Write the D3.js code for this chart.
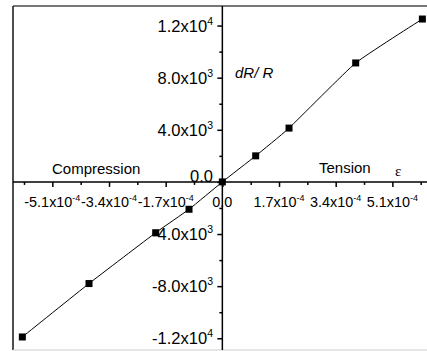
<!DOCTYPE html>
<html>
<head>
<meta charset="utf-8">
<script src="https://cdn.jsdelivr.net/npm/d3@7"></script>
<style>
  html, body { margin: 0; padding: 0; background: #fff; }
  svg { display: block; font-family: Arial, "Liberation Sans", sans-serif; }
</style>
</head>
<body>
<svg id="chart" width="427" height="351"></svg>
<script>
// Strain (ε) against relative resistance change (dR/R)
const strain = [-6e-4, -4e-4, -2e-4, -1e-4, 0, 1e-4, 2e-4, 4e-4, 6e-4];
const dRR    = [-11900, -7800, -3900, -2100, 0, 2000, 4130, 9130, 12500];

// Axis ticks and their labels ("^" marks the exponent)
const xMajor = [-5.1e-4, -3.4e-4, -1.7e-4, 0, 1.7e-4, 3.4e-4, 5.1e-4];
const xMajorLabels = ["-5.1x10^-4", "-3.4x10^-4", "-1.7x10^-4", "0.0", "1.7x10^-4", "3.4x10^-4", "5.1x10^-4"];
const xMinor = [-5.95e-4, -4.25e-4, -2.55e-4, -0.85e-4, 0.85e-4, 2.55e-4, 4.25e-4, 5.95e-4];
const yMajor = [-12000, -8000, -4000, 0, 4000, 8000, 12000];
const yMajorLabels = ["-1.2x10^4", "-8.0x10^3", "-4.0x10^3", "0.0", "4.0x10^3", "8.0x10^3", "1.2x10^4"];
const yMinor = [-10000, -6000, -2000, 2000, 6000, 10000];

const svg = d3.select("#chart");
const plotLeft = 13, plotRight = 431.7, plotTop = 6, plotBottom = 350;

const x = d3.scaleLinear().domain([-6.28e-4, 6.28e-4]).range([plotLeft, plotRight]);
const y = d3.scaleLinear().domain([-12900, 13500]).range([plotBottom, plotTop]);

// Frame
svg.append("line").attr("x1", plotLeft).attr("x2", 427).attr("y1", plotTop).attr("y2", plotTop)
  .attr("stroke", "#777").attr("stroke-width", 2);
svg.append("line").attr("x1", plotLeft).attr("x2", plotLeft).attr("y1", plotTop).attr("y2", plotBottom)
  .attr("stroke", "#222").attr("stroke-width", 1.6);
svg.append("line").attr("x1", plotLeft).attr("x2", 427).attr("y1", plotBottom).attr("y2", plotBottom)
  .attr("stroke", "#ccc").attr("stroke-width", 1);

// Axes crossing at the origin
const gx = svg.append("g").attr("transform", `translate(0,${y(0)})`);
gx.call(d3.axisBottom(x).tickValues(xMajor).tickSize(5).tickSizeOuter(0).tickFormat(""));
gx.append("g").call(d3.axisBottom(x).tickValues(xMinor).tickSize(3).tickSizeOuter(0).tickFormat(""))
  .select(".domain").remove();
gx.select(".domain").attr("d", `M${plotLeft},0H427`);
gx.selectAll("line, path").attr("stroke", "#000").attr("stroke-width", 1.5);

const gy = svg.append("g").attr("transform", `translate(${x(0)},0)`);
gy.call(d3.axisLeft(y).tickValues(yMajor).tickSize(5).tickSizeOuter(0).tickFormat(""));
gy.append("g").call(d3.axisLeft(y).tickValues(yMinor).tickSize(3).tickSizeOuter(0).tickFormat(""))
  .select(".domain").remove();
gy.select(".domain").attr("d", `M0,${plotTop}V${plotBottom}`);
gy.selectAll("line, path").attr("stroke", "#000").attr("stroke-width", 1.5);

// Label text with a raised exponent
function writeLabel(sel, supSize, supRise) {
  sel.each(function(d) {
    const parts = d.label.split("^");
    const t = d3.select(this);
    t.append("tspan").text(parts[0]);
    if (parts[1]) {
      t.append("tspan").attr("dy", -supRise).attr("font-size", supSize).text(parts[1]);
    }
  });
}

svg.append("g").selectAll("text")
  .data(yMajor.map((v, i) => ({ v, label: yMajorLabels[i] })))
  .join("text")
  .attr("x", 213)
  .attr("y", d => y(d.v) + (d.v === 0 ? 0 : 6))
  .attr("text-anchor", "end")
  .attr("font-size", 16.5)
  .attr("fill", "#000")
  .call(writeLabel, 10.5, 7);

svg.append("g").selectAll("text")
  .data(xMajor.map((v, i) => ({ v, label: xMajorLabels[i] })))
  .join("text")
  .attr("x", d => x(d.v))
  .attr("y", y(0) + 25)
  .attr("text-anchor", "middle")
  .attr("font-size", 14.4)
  .attr("fill", "#000")
  .call(writeLabel, 9, 6);

// Annotations
svg.append("text").attr("x", 52).attr("y", 174).attr("font-size", 15).text("Compression");
svg.append("text").attr("x", 319).attr("y", 173).attr("font-size", 15).text("Tension");
svg.append("text").attr("x", 235).attr("y", 78).attr("font-size", 15).attr("font-style", "italic").text("dR/ R");
svg.append("text").attr("x", 395).attr("y", 176).attr("font-size", 15)
  .attr("font-family", "'Liberation Serif', 'DejaVu Serif', serif").text("ε");

// Curve and markers
const pts = strain.map((s, i) => [s, dRR[i]]);
svg.append("path")
  .datum(pts)
  .attr("fill", "none")
  .attr("stroke", "#000")
  .attr("stroke-width", 1)
  .attr("d", d3.line().x(d => x(d[0])).y(d => y(d[1])).curve(d3.curveCardinal.tension(0.6)));

const m = 7;
svg.append("g").selectAll("rect")
  .data(pts)
  .join("rect")
  .attr("x", d => x(d[0]) - m / 2)
  .attr("y", d => y(d[1]) - m / 2)
  .attr("width", m)
  .attr("height", m)
  .attr("fill", "#000");
</script>
</body>
</html>
